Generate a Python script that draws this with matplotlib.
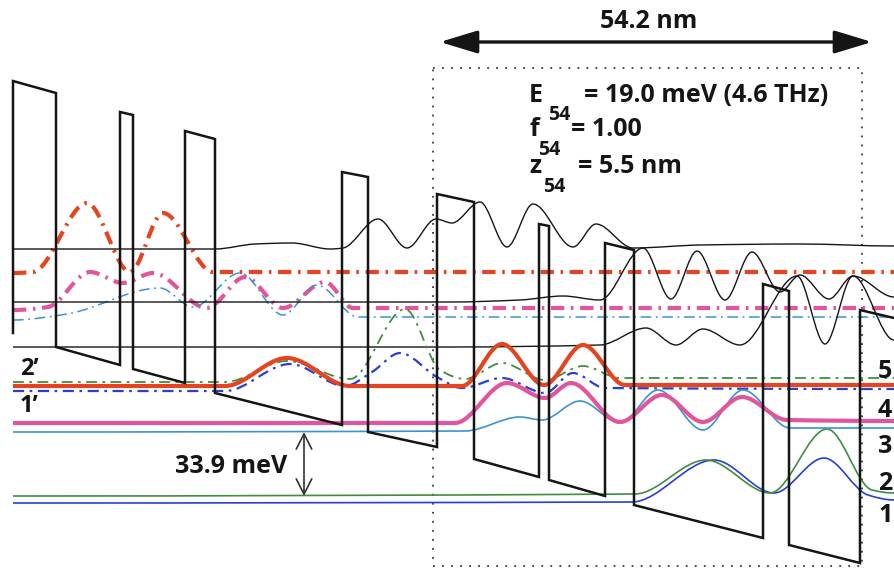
import matplotlib
matplotlib.use("Agg")
import matplotlib.pyplot as plt
from matplotlib.path import Path
from matplotlib.patches import PathPatch, Rectangle, FancyArrowPatch, ArrowStyle

# ---------------- data ----------------
# conduction-band edge (position, energy-depth) – diagram units
band_x = [13, 13, 56, 56, 120, 120, 133, 133, 185, 185, 215, 215, 342, 342, 368, 368,
          437, 437, 474, 474, 539, 539, 549, 549, 605, 605, 634, 634, 763, 763, 789, 789,
          860, 860, 894]
band_y = [333, 81, 93, 347, 365, 112, 115, 369, 383, 131, 139, 393, 425, 172, 177, 432,
          447, 194, 202, 459, 477, 224, 226, 480, 496, 243, 250, 505, 538, 284, 291, 545,
          563, 310, 318]

# states of the marked period (solid lines)
s5_x = [13, 225, 287, 350, 462, 502, 544, 583, 625, 894]
s5_y = [386, 386, 358, 386, 386, 344, 385, 345, 385, 385]
s4_x = [13, 455, 507, 545, 571, 620, 662, 703, 742, 787, 894]
s4_y = [423, 423, 383, 398, 383, 422, 395, 422, 397, 420, 421]
s3_x = [13, 465, 520, 542, 580, 620, 658, 703, 743, 790, 894]
s3_y = [432, 431, 417, 420, 401, 423, 390, 430, 390, 428, 428]
s2_x = [13, 635, 706, 770, 827, 872, 894]
s2_y = [496, 494, 460, 493, 429, 490, 493]
s1_x = [13, 632, 714, 774, 824, 868, 894]
s1_y = [503, 502, 460, 493, 458, 495, 500]

# states 2' and 1' of the previous period
s2p_x = [13, 225, 287, 350, 405, 440, 465, 502, 545, 583, 620, 894]
s2p_y = [382, 382, 361, 379, 309, 370, 379, 363, 380, 366, 378, 378]
s1p_x = [13, 225, 290, 345, 372, 400, 437, 462, 502, 545, 573, 605, 894]
s1p_y = [391, 391, 364, 386, 372, 353, 377, 388, 378, 393, 373, 388, 389]

# upper states of the previous period (dash-dot)
u5_x = [13, 33, 87, 130, 163, 213, 894]
u5_y = [273, 272, 203, 272, 213, 272, 272]
u4_x = [13, 48, 90, 123, 153, 207, 245, 283, 325, 353, 894]
u4_y = [310, 307, 272, 283, 273, 308, 277, 308, 282, 308, 308]
u3_x = [13, 67, 160, 193, 240, 283, 317, 358, 894]
u3_y = [320, 314, 288, 307, 273, 315, 285, 317, 317]

# states of the following period (black)
k1_x = [13, 215, 255, 292, 330, 343, 378, 407, 436, 452, 480, 507, 533, 573, 596, 633, 700, 800, 894]
k1_y = [249, 249, 244, 243, 249, 248, 219, 248, 219, 223, 202, 247, 204, 247, 224, 248, 245, 244, 246]
k2_x = [13, 450, 520, 563, 600, 643, 671, 697, 725, 752, 780, 800, 829, 853, 894]
k2_y = [302, 302, 300, 296, 300, 248, 299, 251, 300, 252, 292, 275, 299, 276, 297]
k3_x = [13, 450, 600, 646, 676, 703, 740, 797, 825, 853, 894]
k3_y = [347, 347, 345, 328, 345, 329, 345, 276, 344, 276, 340]

right_labels = ["5", "4", "3", "2", "1"]
right_label_y = [378, 417, 453, 490, 522]
left_labels = ["2\u2019", "1\u2019"]
left_label_y = [375, 412]

period_text = "54.2 nm"
gap_text = "33.9 meV"
gap_levels = [432, 496]
box_x = [433, 862]
box_y = [68, 566]
span_x = [440, 872]

param_symbols = ["E", "f", "z"]
param_values = ["= 19.0 meV (4.6 THz)", "= 1.00", "= 5.5 nm"]
param_baseline = [102, 136, 173]
param_value_x = [584, 571, 578]
param_sub_x = [548, 538, 543]
param_sub_baseline = [120, 155, 192]

# ---------------- drawing ----------------
FONT = ["Open Sans", "DejaVu Sans"]
RED = "#e4441f"
PINK = "#e3559b"
LBLUE = "#3b93d2"
GREEN = "#3f8e3f"
DBLUE = "#2a3ed2"
INK = "#151515"
WEIGHT = "bold"


def smooth_path(xs, ys):
    n = len(xs)
    d = [(ys[i + 1] - ys[i]) / (xs[i + 1] - xs[i]) for i in range(n - 1)]
    m = []
    for i in range(n):
        if i == 0 or i == n - 1:
            m.append(0.0)
        else:
            a, b = d[i - 1], d[i]
            m.append(0.0 if a * b <= 0 else 2 * a * b / (a + b))
    verts = [(xs[0], ys[0])]
    codes = [Path.MOVETO]
    for i in range(n - 1):
        h = xs[i + 1] - xs[i]
        verts += [(xs[i] + h / 3, ys[i] + m[i] * h / 3),
                  (xs[i + 1] - h / 3, ys[i + 1] - m[i + 1] * h / 3),
                  (xs[i + 1], ys[i + 1])]
        codes += [Path.CURVE4] * 3
    return Path(verts, codes)


def curve(ax, xs, ys, color, lw, ls="-", z=3):
    p = PathPatch(smooth_path(xs, ys), fill=False, edgecolor=color, lw=lw,
                  linestyle=ls, zorder=z, capstyle="butt", joinstyle="round")
    ax.add_patch(p)


fig = plt.figure(figsize=(8.94, 5.79), dpi=100)
ax = fig.add_axes([0, 0, 1, 1])
ax.set_xlim(0, 894)
ax.set_ylim(579, 0)
ax.axis("off")

# dash-dot upper states of previous period
curve(ax, u5_x, u5_y, RED, 3.0, (0, (3.2, 1.6, 0.6, 1.6)), 2)
curve(ax, u4_x, u4_y, PINK, 3.0, (0, (3.2, 1.6, 0.6, 1.6)), 2)
curve(ax, u3_x, u3_y, LBLUE, 1.1, (0, (7, 3, 1.2, 3)), 2)

# black upper states
for xs, ys in [(k1_x, k1_y), (k2_x, k2_y), (k3_x, k3_y)]:
    curve(ax, xs, ys, INK, 1.0, "-", 2)

# previous period 2', 1'
curve(ax, s2p_x, s2p_y, GREEN, 1.3, (0, (6, 3, 1.5, 3)), 3)
curve(ax, s1p_x, s1p_y, DBLUE, 1.6, (0, (5, 2.5, 1.2, 2.5)), 3)

# marked-period states
curve(ax, s1_x, s1_y, DBLUE, 1.2, "-", 3)
curve(ax, s2_x, s2_y, GREEN, 1.2, "-", 3)
curve(ax, s3_x, s3_y, LBLUE, 1.2, "-", 3)
curve(ax, s4_x, s4_y, PINK, 3.0, "-", 4)
curve(ax, s5_x, s5_y, RED, 3.0, "-", 5)

# conduction band
ax.plot(band_x, band_y, color=INK, lw=1.8, solid_joinstyle="miter", zorder=6)

# dotted period box
ax.add_patch(Rectangle((box_x[0], box_y[0]), box_x[1] - box_x[0], box_y[1] - box_y[0],
                       fill=False, edgecolor="#3a3a3a", lw=1.3,
                       linestyle=(0, (1, 4)), zorder=1))

# period arrow
ax.add_patch(FancyArrowPatch((span_x[0], 42), (span_x[1], 42),
                             arrowstyle=ArrowStyle("<|-|>", head_length=2.3, head_width=0.7),
                             mutation_scale=10, lw=2.4, color=INK,
                             shrinkA=0, shrinkB=0, zorder=7))
ax.text(649, 28, period_text, fontsize=18, family=FONT, weight=WEIGHT,
        ha="center", va="baseline", color=INK)

# transition parameters
tk = dict(family=FONT, weight=WEIGHT, va="baseline", ha="left", color=INK, zorder=8)
for sym, val, yb, vx, sx, sy in zip(param_symbols, param_values, param_baseline,
                                    param_value_x, param_sub_x, param_sub_baseline):
    ax.text(529, yb, sym, fontsize=18, **tk)
    ax.text(sx, sy, "54", fontsize=14, **tk)
    ax.text(vx, yb, val, fontsize=18, **tk)

# 33.9 meV marker
ax.add_patch(FancyArrowPatch((304, gap_levels[0]), (304, gap_levels[1]),
                             arrowstyle=ArrowStyle("<->", head_length=0.55, head_width=0.28),
                             mutation_scale=20, lw=1.2, color="#333333",
                             shrinkA=0, shrinkB=0, zorder=7))
ax.text(231, 473, gap_text, fontsize=18, family=FONT, weight=WEIGHT,
        ha="center", va="baseline", color=INK)

# level labels
for lab, y in zip(left_labels, left_label_y):
    ax.text(20, y, lab, fontsize=17, family=FONT, weight=WEIGHT,
            ha="left", va="baseline", color=INK)
for lab, y in zip(right_labels, right_label_y):
    ax.text(878, y, lab, fontsize=18, family=FONT, weight=WEIGHT,
            ha="left", va="baseline", color=INK)

fig.savefig("out.png", dpi=100, facecolor="white")
